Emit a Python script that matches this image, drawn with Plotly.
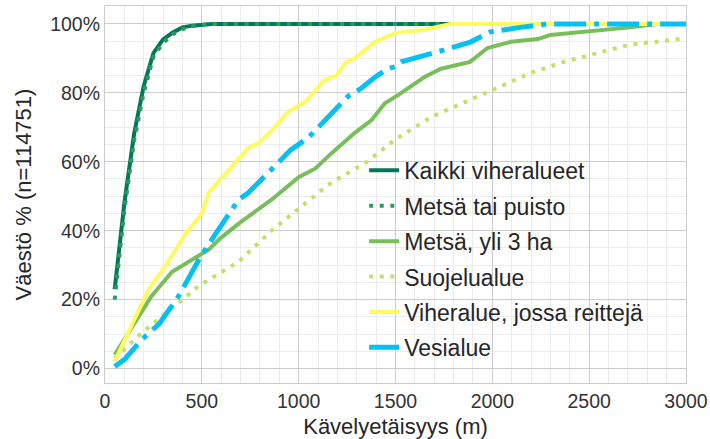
import plotly.graph_objects as go

# ---- data ----
x_kaikki = [50, 100, 150, 200, 250, 300, 350, 400, 450, 500, 550, 600, 1000, 2000, 3000]
y_kaikki = [23, 48, 68, 82, 91.5, 95.5, 97.5, 99, 99.5, 99.8, 100, 100, 100, 100, 100]

x_metsa_puisto = [50, 100, 150, 200, 250, 300, 350, 400, 450, 500, 550, 600, 1000, 2000, 3000]
y_metsa_puisto = [20, 46, 66, 80, 90.5, 94.5, 97, 98.5, 99.3, 99.7, 100, 100, 100, 100, 100]

x_metsa3 = [50, 140, 240, 345, 430, 535, 600, 700, 860, 1000, 1085, 1170, 1290, 1375, 1445,
            1515, 1650, 1735, 1885, 1975, 2095, 2235, 2300, 2475, 2710, 2850, 3000]
y_metsa3 = [4, 12, 21, 28, 31, 34.5, 38, 42.5, 49, 55.5, 58, 62.5, 68.4, 72, 77,
            79.4, 84.6, 87, 89, 93, 94.8, 95.6, 96.8, 97.7, 99, 100, 100]

x_suojelu = [50, 190, 380, 485, 690, 860, 1035, 1170, 1345, 1500, 1685, 1860, 2030, 2200,
             2370, 2540, 2710, 3000]
y_suojelu = [3, 10.4, 19, 24, 31, 40, 48, 54, 59.7, 66.5, 73, 77.4, 81.4, 85.8,
             89, 91.6, 94, 95.8]

x_viher = [50, 140, 225, 315, 415, 500, 535, 655, 740, 795, 860, 945, 1035, 1135, 1195,
           1240, 1290, 1395, 1500, 1650, 1705, 1785, 2000, 3000]
y_viher = [2, 13, 23, 30, 39, 45, 51, 58.6, 64, 65.5, 69, 74.5, 77.4, 83.8, 85,
           88.7, 90, 94.8, 97.4, 98.3, 99, 100, 100, 100]

x_vesi = [50, 100, 190, 280, 380, 485, 570, 690, 740, 860, 960, 1050, 1155, 1190, 1255,
          1325, 1395, 1460, 1500, 1530, 1630, 1755, 1890, 1990, 2145, 2285, 3000]
y_vesi = [0.6, 2.6, 8.4, 13, 21, 31.6, 39, 49, 51, 57.7, 63.5, 67, 73, 75, 79,
          81.4, 84.6, 87, 87.6, 89, 90.5, 92.5, 94.8, 97.7, 99, 100, 100]

y_ticks = [0, 20, 40, 60, 80, 100]
y_tick_labels = ["0%", "20%", "40%", "60%", "80%", "100%"]
x_ticks = [0, 500, 1000, 1500, 2000, 2500, 3000]

series = [
    ("Kaikki viheralueet", x_kaikki, y_kaikki, "#00785a", 4, "solid"),
    ("Metsä tai puisto", x_metsa_puisto, y_metsa_puisto, "#2e9960", 4, "4px,6.6px"),
    ("Metsä, yli 3 ha", x_metsa3, y_metsa3, "#78bf5c", 4, "solid"),
    ("Suojelualue", x_suojelu, y_suojelu, "#c3e06e", 4, "4px,6.6px"),
    ("Viheralue, jossa reittejä", x_viher, y_viher, "#fdfb62", 4, "solid"),
    ("Vesialue", x_vesi, y_vesi, "#05c0f5", 5, "32px,8px,5px,8px"),
]

fig = go.Figure()
for name, xs, ys, color, w, dash in series:
    fig.add_trace(go.Scatter(x=xs, y=ys, name=name, legendgroup=name, mode="lines",
                             line=dict(color=color, width=w, dash=dash)))

font_family = "Arial, Liberation Sans, sans-serif"
fig.update_layout(
    width=710, height=439,
    margin=dict(l=105, r=24, t=6, b=56),
    paper_bgcolor="white", plot_bgcolor="white",
    font=dict(family=font_family, size=19.5, color="#333333"),
    showlegend=True,
    legend=dict(x=0.446, y=0.621, xanchor="left", yanchor="top",
                bgcolor="rgba(0,0,0,0)", font=dict(size=23, color="#262626"),
                tracegroupgap=2.5),
    xaxis=dict(range=[0, 3000], tickvals=x_ticks, showgrid=True,
               gridcolor="#cccccc", gridwidth=1.2,
               minor=dict(dtick=100, showgrid=True, gridcolor="#ececec", gridwidth=1),
               showline=True, linecolor="#cccccc", linewidth=1.2, mirror=True,
               zeroline=False, ticks="", automargin=False,
               title=dict(text="Kävelyetäisyys (m)", font=dict(size=22, color="#262626"),
                          standoff=8)),
    yaxis=dict(range=[-4.2, 105.2], tickvals=y_ticks, ticktext=y_tick_labels, showgrid=True,
               gridcolor="#cccccc", gridwidth=1.2,
               minor=dict(dtick=5, showgrid=True, gridcolor="#ececec", gridwidth=1),
               showline=True, linecolor="#cccccc", linewidth=1.2, mirror=True,
               zeroline=False, ticks="", automargin=False,
               title=dict(text="Väestö % (n=114751)", font=dict(size=22, color="#262626"),
                          standoff=12)),
)

fig.write_html("out.html", config={"displayModeBar": False},
               post_script="document.body.style.margin='0';document.body.style.padding='0';")
